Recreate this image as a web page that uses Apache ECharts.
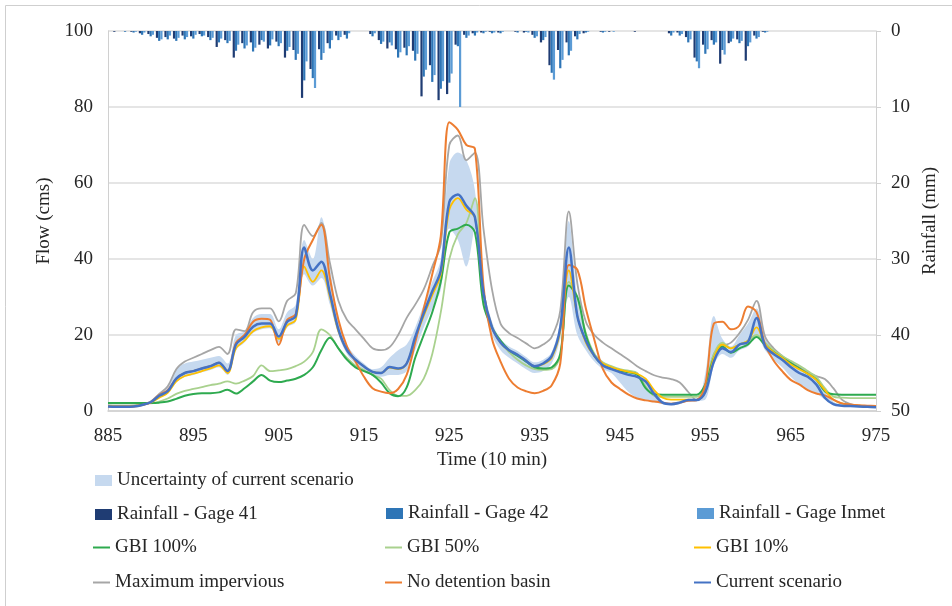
<!DOCTYPE html>
<html>
<head>
<meta charset="utf-8">
<script src="https://cdn.jsdelivr.net/npm/echarts@6/dist/echarts.min.js"></script>
<style>html,body{margin:0;padding:0;background:#fff}#c{width:952px;height:606px}</style>
</head>
<body>
<div id="c"></div>
<script>
// Time steps (10 min) 885..975
var times = [];
for (var t = 885; t <= 975; t++) times.push(String(t));

var currentScenario = [
 1.2,1.1,1.1,1.2,1.6,2.3,4.0,5.2,8.5,10.0,
 10.5,11.2,11.8,12.7,10.5,17.5,19.5,22.2,23.0,23.0,
 19.6,23.5,25.0,43.0,37.0,39.3,31.0,21.5,16.0,13.5,
 11.7,10.3,10.0,11.6,11.2,12.5,19.5,25.7,31.5,37.0,
 55.0,57.0,54.0,51.0,31.0,22.0,18.0,16.0,14.8,13.2,
 11.8,12.5,14.5,22.0,43.0,25.0,18.5,14.5,12.0,11.0,
 10.2,9.5,9.0,7.8,4.5,2.2,1.8,2.2,2.9,2.9,
 5.0,13.0,16.5,15.5,17.5,18.2,24.5,17.0,15.0,13.5,
 11.6,10.0,9.0,7.0,3.5,1.8,1.4,1.3,1.2,1.1,
 1.0];
var maxImpervious = [
 1.5,1.4,1.4,1.5,1.8,2.5,4.5,6.5,11.0,13.0,
 14.0,15.0,16.0,16.9,15.0,21.5,21.0,26.0,27.0,27.0,
 23.6,29.0,31.0,49.0,46.0,49.5,39.0,29.0,24.0,21.5,
 19.0,16.5,16.0,16.8,20.0,24.5,28.0,32.0,38.0,44.0,
 70.0,72.5,66.0,68.0,48.0,32.0,23.0,20.5,19.2,17.8,
 16.5,17.5,19.5,26.4,52.5,33.6,23.5,20.0,18.0,16.5,
 15.0,13.5,11.8,10.5,9.4,8.8,8.4,7.5,5.0,2.8,
 6.0,15.0,17.0,18.0,20.5,24.0,29.0,19.6,16.5,14.5,
 12.8,11.5,10.2,9.2,8.4,6.0,3.0,1.8,1.4,1.2,
 1.1];
var noDetention = [
 1.2,1.1,1.1,1.2,1.6,2.3,4.2,5.5,8.5,10.0,
 10.5,11.2,11.8,12.7,10.5,18.0,20.0,23.5,24.3,24.0,
 17.4,24.0,25.5,40.0,45.0,49.0,35.0,24.0,17.0,13.0,
 9.0,6.0,5.1,4.7,5.8,9.5,18.0,27.0,36.0,46.0,
 76.0,74.0,70.0,69.0,33.0,19.0,13.0,8.5,6.2,5.2,
 4.7,5.3,6.8,12.5,38.4,37.2,27.0,18.7,11.0,7.5,
 5.8,4.3,3.3,2.8,2.5,2.2,1.9,2.2,2.7,2.9,
 7.0,23.0,23.5,21.5,22.5,27.5,26.0,17.5,13.3,10.5,
 8.2,7.0,5.5,4.6,4.1,3.0,2.0,1.7,1.5,1.4,
 1.3];
var gbi10 = [
 1.3,1.2,1.2,1.3,1.6,2.2,3.5,4.8,7.8,9.2,
 9.8,10.5,11.2,12.0,10.0,16.5,18.5,21.0,22.0,22.3,
 19.0,22.5,24.0,38.0,34.0,37.0,30.0,21.0,16.0,13.5,
 11.7,10.3,10.0,11.4,11.0,12.5,19.0,25.0,30.5,36.0,
 53.0,56.0,53.0,51.0,31.0,22.0,18.0,16.0,14.8,13.2,
 11.8,12.3,14.0,21.0,37.0,25.0,18.0,14.5,12.5,11.5,
 10.8,10.3,9.8,8.5,5.5,3.5,3.0,3.0,3.0,2.9,
 5.0,14.0,17.5,16.5,17.5,18.5,22.0,17.5,15.5,14.0,
 12.3,11.0,9.8,8.2,5.5,3.0,2.0,1.6,1.4,1.3,
 1.3];
var gbi100 = [
 2.1,2.1,2.1,2.1,2.1,2.1,2.2,2.5,3.2,4.0,
 4.5,4.7,4.7,4.9,5.6,4.6,6.0,7.8,9.5,8.0,
 7.6,8.0,8.5,9.5,11.5,16.0,19.3,16.5,13.5,11.5,
 10.5,9.5,7.5,4.7,3.9,6.2,14.0,20.0,26.0,34.0,
 47.0,48.0,49.0,47.0,28.0,22.0,18.5,16.0,14.5,13.0,
 11.5,11.2,11.5,15.0,33.0,30.0,20.0,14.5,12.2,11.2,
 10.6,10.2,9.6,6.0,4.4,4.3,4.3,4.3,4.3,4.3,
 7.0,14.0,17.0,15.3,16.5,17.5,19.5,17.3,15.5,14.0,
 12.6,11.2,9.8,8.3,5.2,4.4,4.3,4.3,4.3,4.3,
 4.3];
var gbi50 = [
 2.0,2.0,2.0,2.0,2.0,2.0,2.5,3.3,4.5,5.3,
 5.8,6.3,6.8,7.2,7.8,7.2,8.0,9.2,12.0,10.5,
 10.7,11.0,11.8,13.0,15.5,21.5,20.0,16.5,14.0,12.0,
 10.8,9.5,8.5,5.5,4.0,4.0,5.5,8.5,15.0,26.0,
 40.0,46.5,49.5,56.0,30.0,22.0,18.0,15.5,13.5,12.0,
 11.0,10.8,11.0,14.5,34.0,30.0,20.5,15.0,12.8,11.8,
 11.0,10.6,10.0,6.5,4.0,3.7,3.7,3.7,3.7,3.7,
 7.0,15.0,18.0,16.5,17.5,18.5,20.0,18.0,16.0,14.5,
 13.2,12.0,10.5,9.0,6.0,3.8,3.5,3.4,3.4,3.4,
 3.4];
var bandUpper = [
 1.4,1.3,1.3,1.4,1.8,2.6,4.8,6.5,11.0,12.5,
 13.0,13.5,14.0,14.5,12.5,20.0,21.0,24.5,25.5,25.5,
 21.5,26.0,28.0,45.0,40.0,51.0,38.0,24.0,17.5,14.5,
 12.5,11.0,11.5,14.0,16.0,17.5,22.0,28.0,34.0,40.0,
 65.0,68.0,66.0,58.0,33.0,23.5,19.0,17.0,15.8,14.2,
 12.8,13.5,15.5,24.0,50.0,30.0,20.0,15.5,13.0,11.8,
 11.0,10.3,9.6,8.5,5.5,2.6,2.2,2.6,3.2,3.2,
 10.0,25.0,19.0,17.0,20.0,23.0,27.0,20.0,16.0,14.5,
 12.5,11.0,9.8,8.5,5.5,2.5,1.7,1.5,1.4,1.3,
 1.2];
var bandLower = [
 1.0,0.9,0.9,1.0,1.4,2.0,3.5,4.6,7.5,9.0,
 9.5,10.2,10.8,11.5,9.5,16.0,18.0,20.5,21.5,21.8,
 18.0,22.0,23.5,36.0,33.0,35.0,28.0,20.0,15.0,12.5,
 10.8,9.5,9.0,9.5,9.5,10.5,16.0,22.0,27.0,32.0,
 48.0,45.0,38.0,48.0,28.0,20.0,16.0,14.0,12.5,11.0,
 10.0,10.5,12.5,19.0,30.0,20.0,16.0,13.0,11.0,10.0,
 7.5,5.0,3.5,2.8,2.3,1.8,1.5,1.8,2.5,2.6,
 3.0,12.0,15.0,14.0,16.0,17.0,20.0,16.0,13.5,11.5,
 9.0,7.0,5.5,4.6,3.0,1.5,1.2,1.1,1.0,0.9,
 0.9];
var rainGage41 = [
 0,0.1,0,0.1,0.3,0.4,0.9,0.8,1.0,0.6,
 0.7,0.4,0.8,2.1,1.2,3.5,1.6,1.5,1.8,2.3,
 1.4,3.5,2.5,8.8,5.0,2.4,1.6,0.6,0.5,0,
 0,0.4,1.2,2.3,2.4,2.2,2.6,8.6,4.5,9.1,
 8.3,1.8,0.5,0.3,0.2,0.1,0.2,0,0.1,0.2,
 0.5,1.5,4.5,2.5,1.5,0.7,0.3,0,0.1,0.1,
 0,0,0.1,0,0,0,0.3,0.2,0.8,3.5,
 1.8,1.2,4.3,1.6,1.1,3.9,0.6,0.1,0,0,
 0,0,0,0,0,0,0,0,0,0,
 0];
var rainGage42 = [
 0,0,0.1,0.2,0.5,0.7,1.3,1.1,1.3,1.1,
 1.0,0.7,1.2,1.5,1.6,2.6,2.3,2.7,1.2,1.9,
 2.0,2.6,3.8,6.5,6.2,3.8,2.3,1.2,1.0,0,
 0,0.7,1.7,1.5,3.5,3.2,3.9,6.0,6.7,7.6,
 6.8,2.0,0.9,0.6,0.3,0.3,0.3,0,0.2,0.1,
 0.9,1.2,5.5,4.9,3.2,1.1,0.2,0,0.2,0,
 0,0,0,0,0,0,0.6,0.6,1.5,4.0,
 3.0,1.8,2.5,1.4,1.6,2.0,1.0,0.2,0,0,
 0,0,0,0,0,0,0,0,0,0,
 0];
var rainGageInmet = [
 0,0,0,0.1,0.2,0.5,1.1,0.6,0.9,0.8,
 0.5,0.6,0.9,1.0,1.3,1.8,1.9,2.2,1.4,1.1,
 1.6,2.1,3.0,4.0,7.5,2.9,1.2,0.8,0.3,0,
 0,0.3,1.4,1.9,2.8,2.0,3.0,5.1,5.8,6.6,
 5.6,10.0,0.6,0.2,0.1,0.2,0.1,0,0,0.2,
 0.7,0.8,6.4,3.8,2.6,0.4,0.1,0,0.1,0.1,
 0,0,0,0,0,0,0.2,0.4,1.1,4.9,
 2.4,1.5,3.1,1.0,1.3,1.5,0.8,0.1,0,0,
 0,0,0,0,0,0,0,0,0,0,
 0];

var bandDiff = bandUpper.map(function (u, i) { return +(u - bandLower[i]).toFixed(2); });

var FONT = '"Liberation Serif", "Times New Roman", serif';
var TXT = '#262626';
var SM = 0.35;
var BAND = '#c6d9ef';

function line(name, data, color, width) {
  return {
    name: name, type: 'line', data: data, xAxisIndex: 0, yAxisIndex: 0,
    smooth: SM, symbol: 'none', showSymbol: false,
    lineStyle: { color: color, width: width }, itemStyle: { color: color },
    emphasis: { disabled: true }, z: 3
  };
}
function bar(name, data, color) {
  return {
    name: name, type: 'bar', data: data, xAxisIndex: 0, yAxisIndex: 1,
    itemStyle: { color: color }, barGap: '0%', barCategoryGap: '22%',
    emphasis: { disabled: true }, z: 2
  };
}

var legendText = { fontFamily: FONT, fontSize: 19, color: TXT, lineHeight: 18 };
function legendBlock(left, top, names, iconH, gap) {
  return {
    orient: 'vertical', left: left, top: top, padding: 0, itemGap: gap,
    itemWidth: 17, itemHeight: iconH, icon: 'rect',
    textStyle: legendText, selectedMode: false,
    data: names.map(function (n) { return { name: n, icon: 'rect' }; })
  };
}

var option = {
  animation: false,
  backgroundColor: '#fff',
  graphic: [{
    type: 'rect', shape: { x: 5.5, y: 5.5, width: 1000, height: 1000 },
    style: { fill: 'none', stroke: '#cfcfcf', lineWidth: 1 }, silent: true
  }],
  grid: { left: 108, right: 76, top: 31, bottom: 195, containLabel: false },
  xAxis: [{
    type: 'category', data: times, boundaryGap: false,
    name: 'Time (10 min)', nameLocation: 'middle', nameGap: 40,
    nameTextStyle: { fontFamily: FONT, fontSize: 19, color: TXT },
    axisLine: { lineStyle: { color: '#d0d0d0', width: 1.5 } },
    axisTick: { show: false },
    axisLabel: { interval: 9, fontFamily: FONT, fontSize: 19, color: TXT, margin: 16 },
    splitLine: { show: false }
  }],
  yAxis: [{
    type: 'value', min: 0, max: 100, interval: 20, position: 'left',
    name: 'Flow (cms)', nameLocation: 'middle', nameGap: 48, nameRotate: 90,
    nameTextStyle: { fontFamily: FONT, fontSize: 19, color: TXT },
    axisLine: { show: true, lineStyle: { color: '#d0d0d0' } },
    axisTick: { show: false },
    axisLabel: { fontFamily: FONT, fontSize: 19, color: TXT, margin: 15 },
    splitLine: { show: true, lineStyle: { color: '#dcdcdc', width: 1.5 } }
  }, {
    type: 'value', min: 0, max: 50, interval: 10, position: 'right', inverse: true,
    name: 'Rainfall (mm)', nameLocation: 'middle', nameGap: 35, nameRotate: 90,
    nameTextStyle: { fontFamily: FONT, fontSize: 19, color: TXT },
    axisLine: { show: true, lineStyle: { color: '#d0d0d0' } },
    axisTick: { show: true, length: 5, lineStyle: { color: '#d0d0d0' } },
    axisLabel: { fontFamily: FONT, fontSize: 19, color: TXT, margin: 15 },
    splitLine: { show: false }
  }],
  legend: [
    legendBlock(95, 471, ['Uncertainty of current scenario', 'Rainfall - Gage 41'], 11, 15),
    legendBlock(93, 538, ['GBI 100%', 'Maximum impervious'], 2, 16),
    legendBlock(386, 504, ['Rainfall - Gage 42'], 11, 16),
    legendBlock(385, 538, ['GBI 50%', 'No detention basin'], 2, 16),
    legendBlock(697, 504, ['Rainfall - Gage Inmet'], 11, 16),
    legendBlock(694, 538, ['GBI 10%', 'Current scenario'], 2, 16)
  ],
  series: [
    {
      name: 'bandBase', type: 'line', data: bandLower, stack: 'band', smooth: SM,
      symbol: 'none', lineStyle: { width: 0, opacity: 0 }, emphasis: { disabled: true }, z: 1
    },
    {
      name: 'Uncertainty of current scenario', type: 'line', data: bandDiff, stack: 'band', smooth: SM,
      symbol: 'none', lineStyle: { width: 0, opacity: 0 }, itemStyle: { color: BAND },
      areaStyle: { color: BAND, opacity: 1 }, emphasis: { disabled: true }, z: 1
    },
    bar('Rainfall - Gage 41', rainGage41, '#1f3c73'),
    bar('Rainfall - Gage 42', rainGage42, '#2e75b6'),
    bar('Rainfall - Gage Inmet', rainGageInmet, '#5b9bd5'),
    line('Maximum impervious', maxImpervious, '#a6a6a6', 1.8),
    line('GBI 50%', gbi50, '#a9d18e', 1.8),
    line('GBI 100%', gbi100, '#2eaa4f', 2),
    line('GBI 10%', gbi10, '#ffc000', 1.8),
    line('No detention basin', noDetention, '#ed7d31', 2),
    line('Current scenario', currentScenario, '#4472c4', 2.5)
  ]
};

var chart = echarts.init(document.getElementById('c'), null, { renderer: 'canvas' });
chart.setOption(option);
</script>
</body>
</html>
